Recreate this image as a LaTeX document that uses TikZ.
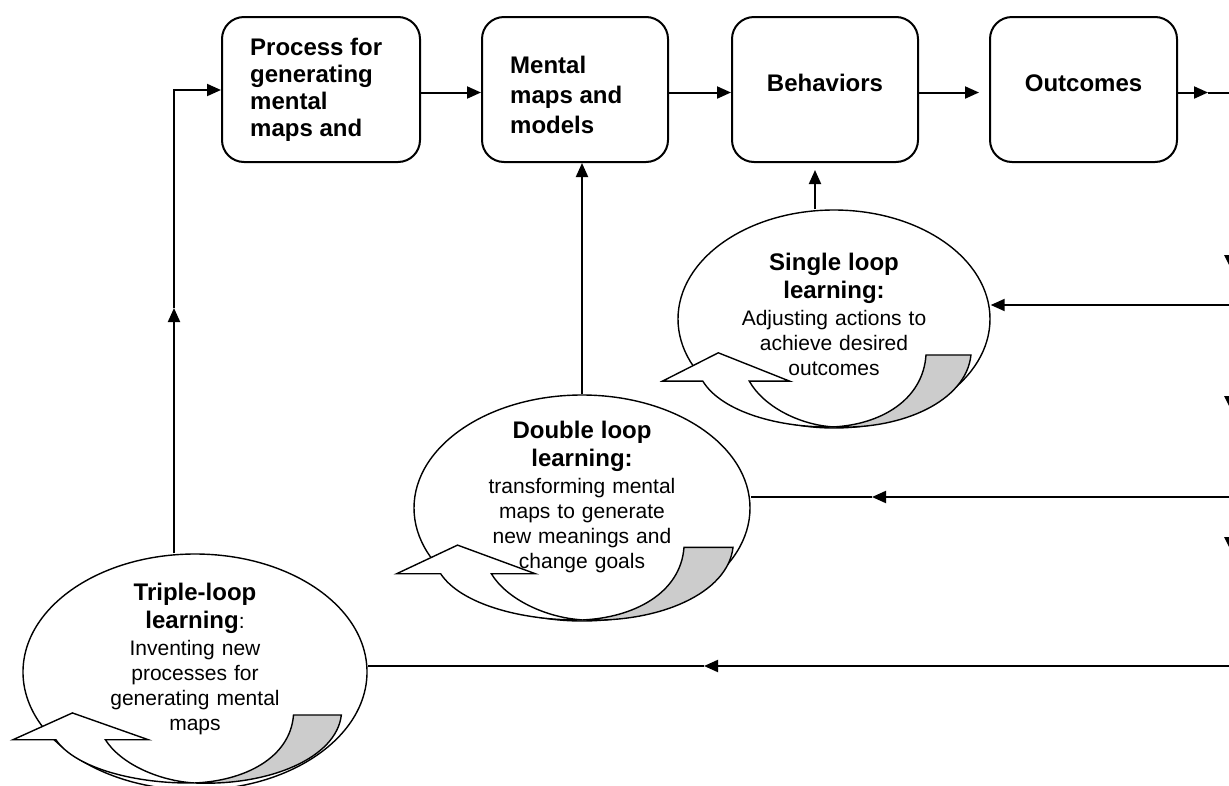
\documentclass[tikz,border=0pt]{standalone}
\usepackage{fontspec}
\setmainfont{Liberation Sans}
\usetikzlibrary{shapes.geometric,arrows.meta}
\newcommand\boxfont{\fontsize{24}{27}\selectfont\bfseries}
\newcommand\loopbold{\fontsize{24}{25}\selectfont\bfseries}
\newcommand\loopreg{\fontsize{21}{25}\selectfont}
\tikzset{
  flow/.style={line width=2pt, -{Triangle[length=14pt,width=12pt]}},
  plain/.style={line width=2pt},
  box/.style={draw, line width=2pt, rounded corners=22pt, minimum height=145pt, inner sep=0pt},
  boxtext/.style={font=\boxfont, align=left, inner sep=0pt},
  loopell/.style={draw, ellipse, line width=1.4pt, inner sep=0pt},
  looptext/.style={align=center, inner sep=0pt, text width=250pt, font=\loopreg, anchor=south},
  tiptri/.style={fill=black},
  loopflow/.pic={
    \filldraw[fill=white, line width=1.4pt]
      (-0.84,0.57) -- (-1.10,0.57) -- (-0.74,0.31) -- (-0.28,0.57) -- (-0.54,0.57)
      .. controls (-0.45,0.80) and (-0.22,0.97) .. (0,0.99)
      .. controls (-0.35,1.0) and (-0.72,0.85) .. (-0.84,0.57) -- cycle;
    \filldraw[fill=black!20, line width=1.4pt]
      (0,0.99) .. controls (0.30,0.97) and (0.58,0.75) .. (0.60,0.33)
      -- (0.89,0.33) .. controls (0.86,0.75) and (0.45,1.02) .. (0,0.99) -- cycle;
  }
}
\begin{document}
\begin{tikzpicture}[x=1pt,y=-1pt]
\useasboundingbox (0,0) rectangle (1229,785);
\clip (0,0) rectangle (1229,785);

% top boxes
\node[box, minimum width=198pt] (b1) at (321,89.5) {};
\node[box, minimum width=186pt] (b2) at (575,89.5) {};
\node[box, minimum width=186pt] (b3) at (825,89.5) {};
\node[box, minimum width=187pt] (b4) at (1083.5,89.5) {};
\node[boxtext, anchor=west] (t1) at (250,90) {Process for\\generating\\mental\\maps and};
\node[boxtext, anchor=west] (t2) at (510,95) {Mental\\[3pt]maps and\\[3pt]models};
\node[boxtext] (t3) at (825,83) {Behaviors};
\node[boxtext] (t4) at (1083.5,83) {Outcomes};

% loop ellipses
\node[loopell, minimum width=312pt, minimum height=218pt] (sgl) at (834,319) {};
\node[loopell, minimum width=336pt, minimum height=226pt] (dbl) at (582,508) {};
\node[loopell, minimum width=344pt, minimum height=236pt] (tpl) at (195,672) {};

% curved arrows inside the loops
\pic[xscale=155, yscale=109] (sglflow) at (833,319) {loopflow};
\pic[xscale=169, yscale=110] (dblflow) at (582.6,511) {loopflow};
\pic[xscale=165, yscale=103] (tplflow) at (194.5,681) {loopflow};

% loop texts
\node[looptext] (sglt) at (834,376) {{\loopbold Single loop}\\[3pt] {\loopbold learning:}\\[2pt] Adjusting actions to\\achieve desired\\outcomes};
\node[looptext] (dblt) at (582,573) {{\loopbold Double loop}\\[3pt] {\loopbold learning:}\\[2pt] transforming mental\\maps to generate\\new meanings and\\change goals};
\node[looptext] (tplt) at (195,735) {{\loopbold Triple-loop}\\[3pt] {\loopbold learning}:\\[2pt] Inventing new\\processes for\\generating mental\\maps};

% top flow
\coordinate (lcorner) at (174,90);
\coordinate (lup) at (174,308);
\draw[flow] (lcorner |- tpl.north) -- (lup);
\draw[flow] (lup) -- (lcorner) -- (b1.west |- lcorner);
\draw[flow] ([yshift=-3pt]b1.east) -- ([yshift=-3pt]b2.west);
\draw[flow] ([yshift=-3pt]b2.east) -- ([yshift=-3pt]b3.west);
\draw[flow] ([yshift=-3pt]b3.east) -- ([xshift=-10pt,yshift=-3pt]b4.west);
\coordinate (outtip) at (1208,92.5);
\coordinate (outend) at (1229,92.5);
\draw[flow] ([yshift=-3pt]b4.east) -- (outtip);
\draw[plain] (outtip) -- (outend);

% loops up to the boxes
\draw[flow] (dbl.north) -- (dbl.north |- b2.south);
\coordinate (sglup) at (815,170);
\draw[flow] (sglup |- sgl.north) -- (sglup);

% feedback lines from the right
\coordinate (rs) at (1229,305);
\draw[flow] (rs) -- (rs -| sgl.east);
\coordinate (rd) at (1229,497);
\coordinate (rdmid) at (872,497);
\draw[flow] (rd) -- (rdmid);
\draw[plain] (rdmid) -- (rdmid -| dbl.east);
\coordinate (rt) at (1229,666);
\coordinate (rtmid) at (704,666);
\draw[flow] (rt) -- (rtmid);
\draw[plain] (rtmid) -- (rtmid -| tpl.east);

% cut arrow tips at the right edge
\fill[tiptri] (1224,255) -- (1236,255) -- (1230,267) -- cycle;
\fill[tiptri] (1224,396) -- (1236,396) -- (1230,408) -- cycle;
\fill[tiptri] (1224,537) -- (1236,537) -- (1230,549) -- cycle;
\end{tikzpicture}
\end{document}
